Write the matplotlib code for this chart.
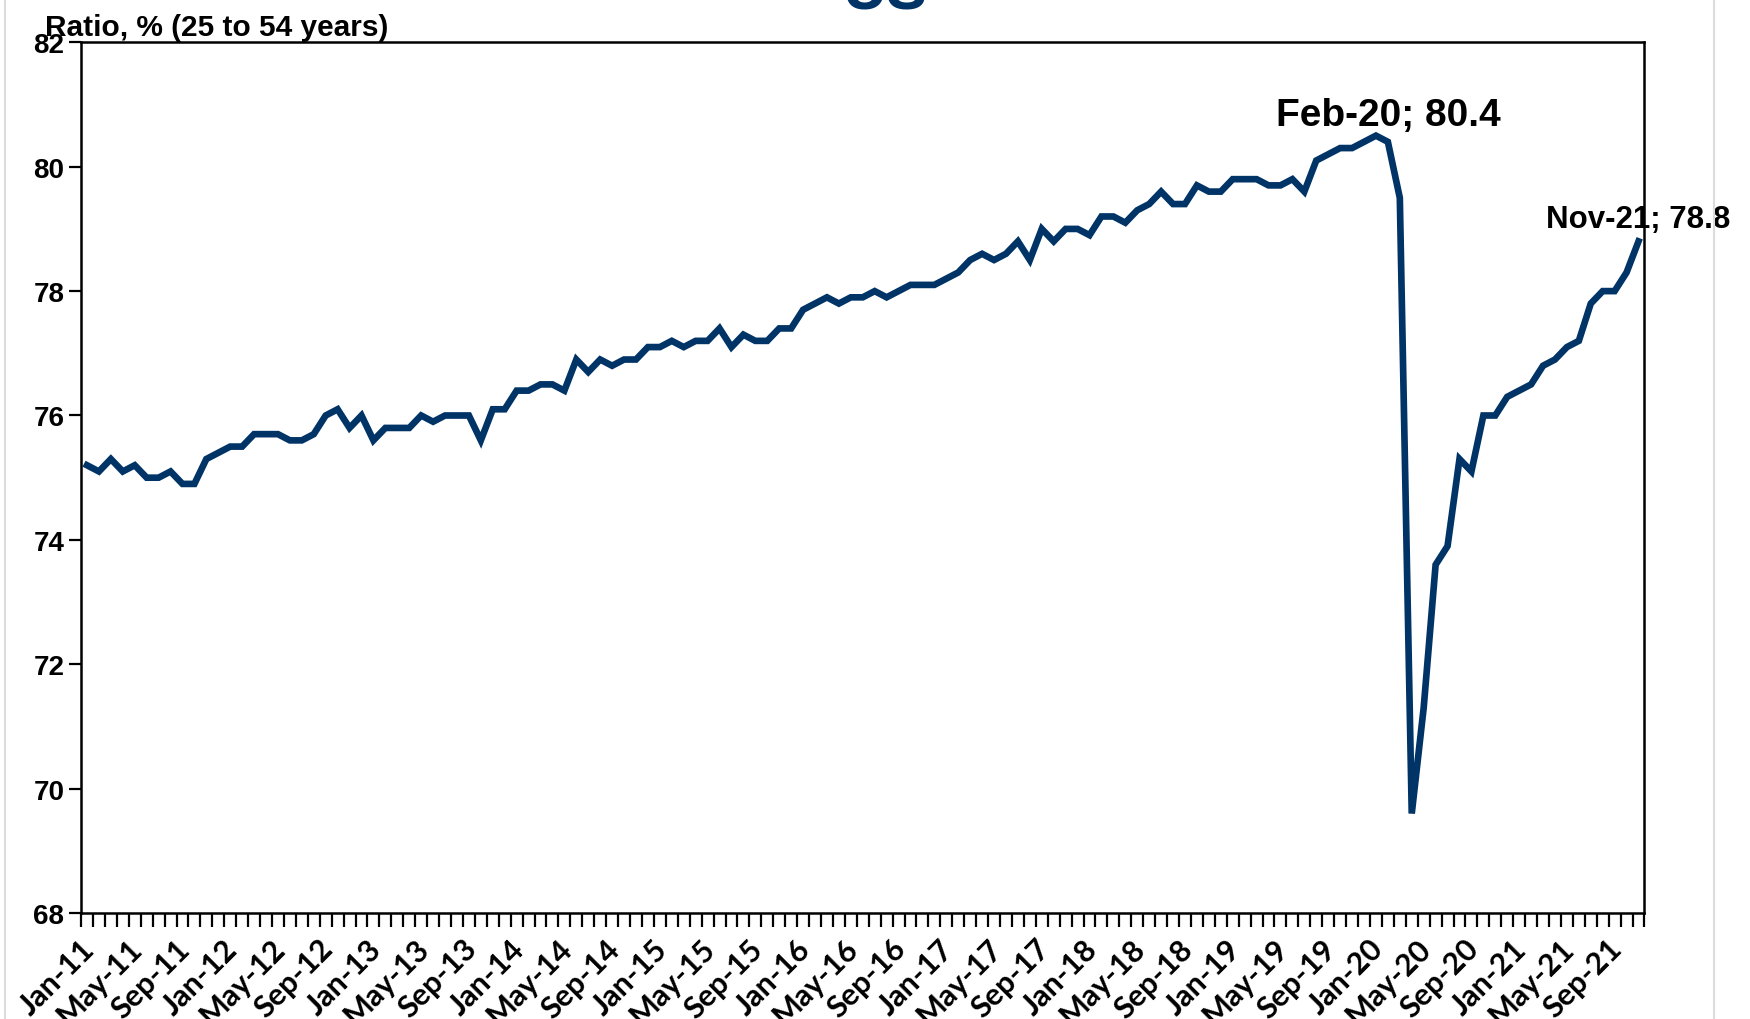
import numpy as np
import pandas as pd
import matplotlib
matplotlib.use("Agg")
import matplotlib.pyplot as plt
import matplotlib.transforms as mtransforms
from matplotlib.lines import Line2D

# prime-age (25-54) employment-population ratio, monthly Jan-11 .. Nov-21
ratio = [
    75.2, 75.1, 75.3, 75.1, 75.2, 75.0, 75.0, 75.1, 74.9, 74.9, 75.3, 75.4,  # 2011
    75.5, 75.5, 75.7, 75.7, 75.7, 75.6, 75.6, 75.7, 76.0, 76.1, 75.8, 76.0,  # 2012
    75.6, 75.8, 75.8, 75.8, 76.0, 75.9, 76.0, 76.0, 76.0, 75.6, 76.1, 76.1,  # 2013
    76.4, 76.4, 76.5, 76.5, 76.4, 76.9, 76.7, 76.9, 76.8, 76.9, 76.9, 77.1,  # 2014
    77.1, 77.2, 77.1, 77.2, 77.2, 77.4, 77.1, 77.3, 77.2, 77.2, 77.4, 77.4,  # 2015
    77.7, 77.8, 77.9, 77.8, 77.9, 77.9, 78.0, 77.9, 78.0, 78.1, 78.1, 78.1,  # 2016
    78.2, 78.3, 78.5, 78.6, 78.5, 78.6, 78.8, 78.5, 79.0, 78.8, 79.0, 79.0,  # 2017
    78.9, 79.2, 79.2, 79.1, 79.3, 79.4, 79.6, 79.4, 79.4, 79.7, 79.6, 79.6,  # 2018
    79.8, 79.8, 79.8, 79.7, 79.7, 79.8, 79.6, 80.1, 80.2, 80.3, 80.3, 80.4,  # 2019
    80.5, 80.4, 79.5, 69.6, 71.3, 73.6, 73.9, 75.3, 75.1, 76.0, 76.0, 76.3,  # 2020
    76.4, 76.5, 76.8, 76.9, 77.1, 77.2, 77.8, 78.0, 78.0, 78.3, 78.8,        # 2021
]
months = list(pd.date_range("2011-01-01", periods=len(ratio), freq="MS").strftime("%b-%y"))

y_ticks = [68, 70, 72, 74, 76, 78, 80, 82]
callouts = ["Feb-20", "Nov-21"]

navy = "#003366"
arial = ["Liberation Sans", "DejaVu Sans"]

fig = plt.figure(figsize=(17.5, 10.2), dpi=100)
ax = fig.add_axes([0.0463, 0.1039, 0.8934, 0.8536])

x = np.arange(len(ratio))
ax.plot(x, ratio, color=navy, lw=4.8, solid_joinstyle="miter")

ax.set_xlim(-0.5, len(ratio) - 0.5)
ax.set_ylim(68, 82)

# monthly tick marks between categories, labels every 4 months
ax.set_xticks(np.arange(len(ratio) + 1) - 0.5, minor=True)
lab_idx = x[::4]
ax.set_xticks(lab_idx)
ax.set_xticklabels([months[i] for i in lab_idx], rotation=45, ha="right",
                   rotation_mode="anchor", fontfamily=["Lato", "DejaVu Sans"],
                   fontweight="bold", fontsize=22)
ax.tick_params(axis="x", which="major", length=0, pad=15)
ax.tick_params(axis="x", which="minor", length=10, width=1.6, direction="out")
shift = mtransforms.ScaledTranslation(-0.07, 0, fig.dpi_scale_trans)
for lab in ax.get_xticklabels():
    lab.set_transform(lab.get_transform() + shift)

ax.set_yticks(y_ticks)
ax.set_yticklabels([str(v) for v in y_ticks], fontfamily=arial,
                   fontweight="bold", fontsize=20)
ax.tick_params(axis="y", length=9, width=1.6, pad=3)

for s in ax.spines.values():
    s.set_linewidth(1.8)
    s.set_color("black")

# data callouts
for m, fs, dy in zip(callouts, [28, 22.5], [19, 16]):
    i = months.index(m)
    ax.annotate(f"{m}; {ratio[i]}", xy=(i, ratio[i]), xytext=(0, dy),
                textcoords="offset points", ha="center", va="center",
                fontsize=fs, fontweight="bold", fontfamily=arial,
                annotation_clip=False)

# axis caption above the plot
fig.text(45 / 1750, 1 - 36 / 1020, "Ratio, % (25 to 54 years)", fontfamily=arial,
         fontweight="bold", fontsize=21.5, va="baseline", ha="left")

# title, mostly cut off at the top edge in the source
fig.text(885 / 1750, 1 - 10 / 1020, "US", color=navy, fontsize=44,
         fontweight="bold", fontfamily=arial, ha="center", va="baseline")

# faint frame lines at the sides of the screenshot
for fx in [4.5 / 1750, 1714 / 1750]:
    fig.add_artist(Line2D([fx, fx], [0, 1], transform=fig.transFigure,
                          color="#dcdcdc", lw=1.5))

fig.savefig("out.png", dpi=100)
